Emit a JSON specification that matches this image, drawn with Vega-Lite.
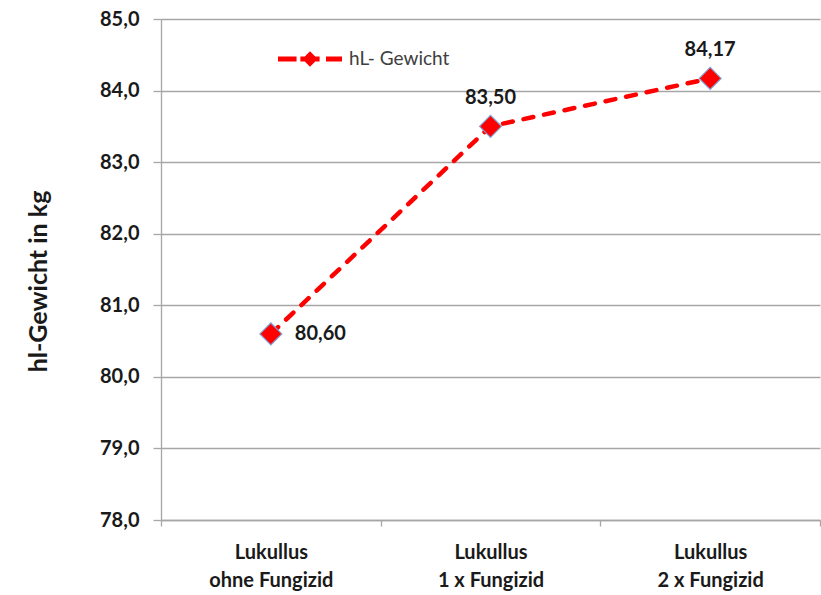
{
  "$schema": "https://vega.github.io/schema/vega-lite/v6.json",
  "autosize": {"type": "none"},
  "padding": {"left": 161, "top": 19, "right": 1, "bottom": 75},
  "width": 659,
  "height": 501,
  "background": "#ffffff",
  "config": {
    "font": "Lato",
    "view": {"stroke": null},
    "locale": {"number": {"decimal": ",", "thousands": ".", "grouping": [3], "currency": ["", " €"]}},
    "axis": {
      "labelFont": "Lato",
      "labelFontWeight": "bold",
      "labelFontSize": 20,
      "labelColor": "#1a1a1a",
      "domainColor": "#a6a6a6",
      "domainWidth": 1.3,
      "tickColor": "#a6a6a6",
      "tickWidth": 1.3,
      "gridColor": "#a6a6a6",
      "gridWidth": 1.3,
      "gridOpacity": 1,
      "titleFont": "Lato",
      "titleFontWeight": "bold",
      "titleColor": "#1a1a1a"
    }
  },
  "data": {
    "values": [
      {"kat": "Lukullus|ohne Fungizid", "wert": 80.60, "serie": "hL- Gewicht"},
      {"kat": "Lukullus|1 x Fungizid", "wert": 83.50, "serie": "hL- Gewicht"},
      {"kat": "Lukullus|2 x Fungizid", "wert": 84.17, "serie": "hL- Gewicht"}
    ]
  },
  "encoding": {
    "x": {
      "field": "kat",
      "type": "nominal",
      "sort": null,
      "scale": {"type": "band", "paddingInner": 0, "paddingOuter": 0},
      "axis": {
        "title": null,
        "labelAngle": 0,
        "labelExpr": "split(datum.label, '|')",
        "labelLineHeight": 28,
        "labelPadding": 16,
        "labelBaseline": "top",
        "tickBand": "extent",
        "tickSize": 6,
        "grid": false
      }
    },
    "y": {
      "field": "wert",
      "type": "quantitative",
      "scale": {"domain": [78, 85], "nice": false, "zero": false},
      "axis": {
        "title": "hl-Gewicht in kg",
        "titleFontSize": 25,
        "titleX": -110,
        "titleY": 262,
        "values": [78, 79, 80, 81, 82, 83, 84, 85],
        "format": ".1f",
        "tickSize": 8,
        "labelPadding": 14,
        "grid": true
      }
    }
  },
  "layer": [
    {
      "mark": {"type": "line", "color": "#ff0000", "strokeWidth": 4.5, "strokeDash": [10, 11], "strokeCap": "round"},
      "encoding": {}
    },
    {
      "mark": {"type": "point", "shape": "diamond", "filled": true, "size": 480, "opacity": 1, "stroke": "#7f9fd0", "strokeWidth": 1.2},
      "encoding": {
        "color": {
          "field": "serie",
          "type": "nominal",
          "scale": {"range": ["#ff0000"]},
          "legend": {
            "title": null,
            "orient": "none",
            "legendX": 117,
            "legendY": 8,
            "padding": 0,
            "symbolType": "M-1,-0.075H-0.42V0.075H-1Z M-0.3,-0.075H0.3V0.075H-0.3Z M0.5,-0.075H1V0.075H0.5Z M0,-0.24L0.24,0L0,0.24L-0.24,0Z",
            "symbolSize": 4096,
            "symbolStrokeWidth": 0,
            "symbolFillColor": "#ff0000",
            "labelFont": "Lato",
            "labelFontSize": 19,
            "labelColor": "#404040",
            "labelOffset": 7
          }
        }
      }
    },
    {
      "transform": [{"filter": "datum.wert < 81"}],
      "mark": {"type": "text", "align": "left", "baseline": "middle", "dx": 24, "font": "Lato", "fontWeight": "bold", "fontSize": 20, "color": "#1a1a1a"},
      "encoding": {"text": {"field": "wert", "type": "quantitative", "format": ".2f"}}
    },
    {
      "transform": [{"filter": "datum.wert >= 81"}],
      "mark": {"type": "text", "align": "center", "baseline": "middle", "dy": -28, "font": "Lato", "fontWeight": "bold", "fontSize": 20, "color": "#1a1a1a"},
      "encoding": {"text": {"field": "wert", "type": "quantitative", "format": ".2f"}}
    }
  ]
}
